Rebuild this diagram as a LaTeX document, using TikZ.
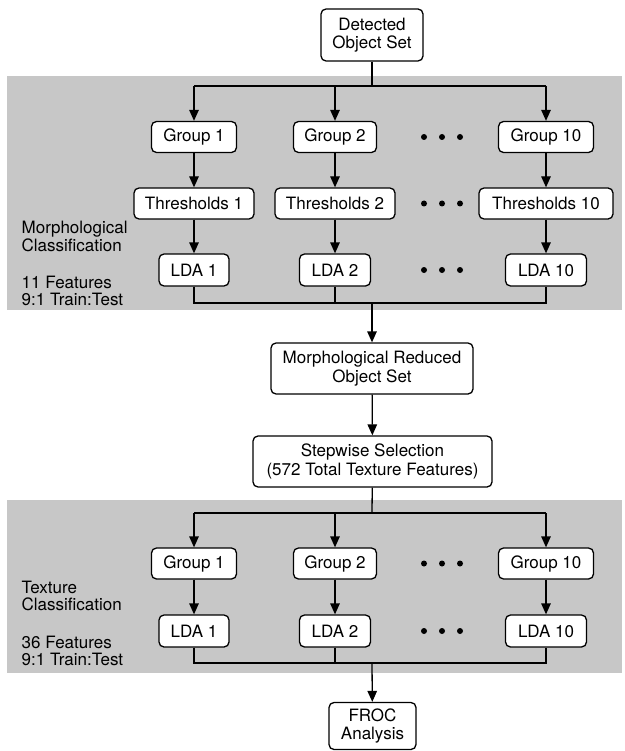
\documentclass[tikz,border=0pt]{standalone}
\usepackage{fontspec}
\setmainfont{TeX Gyre Heros}
\usetikzlibrary{arrows.meta}

\begin{document}
\begin{tikzpicture}[x=1pt,y=-1pt,>={Triangle[length=11pt,width=9.5pt]},line width=1.3pt,
 box/.style={draw,fill=white,rounded corners=5pt,align=center,inner sep=0pt,
  minimum height=31pt,font=\fontsize{17}{18.5}\selectfont},
 side/.style={anchor=west,align=left,inner sep=0pt,font=\fontsize{17}{17.5}\selectfont},
 band/.style={fill=black!22}]
\useasboundingbox (0,0) rectangle (624,751);
\fill[band] (7,76) rectangle (622,310);
\fill[band] (7,500) rectangle (622,673);

\node[box,minimum width=102pt,minimum height=52pt] (det) at (372,35) {Detected\\Object Set};

% morphological stage
\node[box,minimum width=85pt] (mg1) at (194,137) {Group 1};
\node[box,minimum width=83pt] (mg2) at (335,137) {Group 2};
\node[box,minimum width=95pt] (mg10) at (546,137) {Group 10};
\node[box,minimum width=120pt] (mt1) at (194,203.5) {Thresholds 1};
\node[box,minimum width=120pt] (mt2) at (335,203.5) {Thresholds 2};
\node[box,minimum width=134pt] (mt10) at (546,203.5) {Thresholds 10};
\node[box,minimum width=70pt,minimum height=32pt] (ml1) at (194,270) {LDA 1};
\node[box,minimum width=71pt,minimum height=32pt] (ml2) at (335,270) {LDA 2};
\node[box,minimum width=81pt,minimum height=32pt] (ml10) at (546,270) {LDA 10};
\node[side] (mlab) at (21,236.5) {Morphological\\Classification};
\node[side] (mfeat) at (21,291) {11 Features\\9:1 Train:Test};
\fill (424,137) circle (3) (442,137) circle (3) (460,137) circle (3);
\fill (424,203.5) circle (3) (442,203.5) circle (3) (460,203.5) circle (3);
\fill (424,270) circle (3) (442,270) circle (3) (460,270) circle (3);

\coordinate (mtop) at (372,86);
\coordinate (mb1) at (194,86);
\coordinate (mb2) at (335,86);
\coordinate (mb10) at (546,86);
\draw (det) -- (mtop);
\draw (mb1) -- (mb10);
\draw[->] (mb1) -- (mg1);
\draw[->] (mb2) -- (mg2);
\draw[->] (mb10) -- (mg10);
\draw[->] (mg1) -- (mt1);
\draw[->] (mg2) -- (mt2);
\draw[->] (mg10) -- (mt10);
\draw[->] (mt1) -- (ml1);
\draw[->] (mt2) -- (ml2);
\draw[->] (mt10) -- (ml10);
\coordinate (mbot) at (372,303);
\coordinate (mc1) at (194,303);
\coordinate (mc2) at (335,303);
\coordinate (mc10) at (546,303);
\draw (ml1) -- (mc1) -- (mc10) -- (ml10);
\draw (ml2) -- (mc2);

\node[box,minimum width=202pt,minimum height=51pt] (red) at (372,368.5) {Morphological Reduced\\Object Set};
\node[box,minimum width=239pt,minimum height=51pt] (sel) at (372.5,461.5) {Stepwise Selection\\(572 Total Texture Features)};
\draw[->] (mbot) -- (red);
\draw[->] (red) -- (sel);

% texture stage
\node[box,minimum width=85pt] (tg1) at (194,563.5) {Group 1};
\node[box,minimum width=83pt] (tg2) at (335,563.5) {Group 2};
\node[box,minimum width=95pt] (tg10) at (546,563.5) {Group 10};
\node[box,minimum width=70pt,minimum height=32pt] (tl1) at (194,631) {LDA 1};
\node[box,minimum width=71pt,minimum height=32pt] (tl2) at (335,631) {LDA 2};
\node[box,minimum width=81pt,minimum height=32pt] (tl10) at (546,631) {LDA 10};
\node[side] (tlab) at (21,596) {Texture\\Classification};
\node[side] (tfeat) at (21,651) {36 Features\\9:1 Train:Test};
\fill (424,563.5) circle (3) (442,563.5) circle (3) (460,563.5) circle (3);
\fill (424,631) circle (3) (442,631) circle (3) (460,631) circle (3);

\coordinate (ttop) at (372,513);
\coordinate (tb1) at (194,513);
\coordinate (tb2) at (335,513);
\coordinate (tb10) at (546,513);
\draw (sel) -- (ttop);
\draw (tb1) -- (tb10);
\draw[->] (tb1) -- (tg1);
\draw[->] (tb2) -- (tg2);
\draw[->] (tb10) -- (tg10);
\draw[->] (tg1) -- (tl1);
\draw[->] (tg2) -- (tl2);
\draw[->] (tg10) -- (tl10);
\coordinate (tbot) at (372,663);
\coordinate (tc1) at (194,663);
\coordinate (tc2) at (335,663);
\coordinate (tc10) at (546,663);
\draw (tl1) -- (tc1) -- (tc10) -- (tl10);
\draw (tl2) -- (tc2);

\node[box,minimum width=87pt,minimum height=47pt] (froc) at (372.5,726) {FROC\\Analysis};
\draw[->] (tbot) -- (froc);
\end{tikzpicture}
\end{document}
